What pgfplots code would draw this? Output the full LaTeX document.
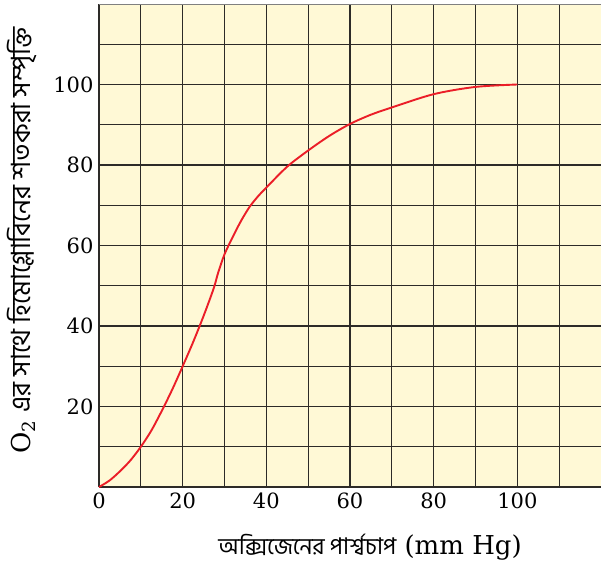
\documentclass[border=0pt]{standalone}
\usepackage{fontspec}
\setmainfont{DejaVu Serif}
\newfontfamily\bn[Script=Bengali]{Hind Siliguri}
\usepackage{pgfplots}
\pgfplotsset{compat=1.18}
\definecolor{bgyel}{RGB}{255,249,214}
\definecolor{curvered}{RGB}{235,30,40}
\definecolor{gridc}{RGB}{45,43,40}
\begin{document}
\begin{tikzpicture}
\begin{axis}[
  scale only axis,
  width=502pt, height=483pt,
  xmin=0, xmax=120, ymin=0, ymax=120,
  axis x line*=bottom, axis y line*=left,
  axis line style={-, gridc, line width=1.2pt},
  axis background/.style={fill=bgyel},
  xtick={0,20,...,100}, minor xtick={10,30,...,110},
  ytick={20,40,...,100}, minor ytick={10,30,...,110},
  major tick length=0pt, minor tick length=0pt,
  grid=both,
  major grid style={gridc, line width=1.2pt},
  minor grid style={gridc, line width=1.2pt},
  /pgf/number format/assume math mode=true,
  tick label style={font=\fontsize{21}{25}\selectfont},
  xticklabel style={yshift=-2pt},
  yticklabel style={xshift=-2pt},
  xlabel={{\bn\fontsize{23}{27}\selectfont অক্সিজেনের পার্শ্বচাপ} (mm Hg)},
  xlabel style={at={(rel axis cs:0.54,0)}, anchor=center, yshift=-60pt, font=\fontsize{26}{30}\selectfont},
  ylabel={O\textsubscript{2} {\bn\fontsize{26.5}{30}\selectfont এর সাথে হিমোগ্লোবিনের শতকরা সম্পৃক্তি}},
  ylabel style={at={(rel axis cs:0,0.51)}, anchor=center, rotate=0, yshift=77pt, font=\fontsize{26}{30}\selectfont},
  clip=false,
]
\addplot[curvered, line width=1.9pt, smooth, tension=0.5] coordinates {
  (0,0) (2.5,1.6) (5,3.9) (7.5,6.6) (10,10) (12.5,14) (15,18.9) (17.5,24.2)
  (20,30) (22.5,36) (25,42.5) (27.4,49.3) (28.5,53.3) (30,57.8) (32,62.2)
  (34,66.2) (36,69.6) (38,72.2) (40,74.4) (45,79.6) (50,83.6)
  (55,87.2) (60,90.2) (65,92.5) (70,94.3) (80,97.6) (90,99.4) (100,100)
};
\coordinate (A) at (rel axis cs:0,0);
\coordinate (B) at (rel axis cs:1,1);
\draw[gray, line width=0.9pt] (rel axis cs:0,1) -- (rel axis cs:1,1);
\end{axis}
\pgfresetboundingbox
\path ([xshift=-99pt,yshift=-78pt]A) rectangle ([yshift=4pt]B);
\end{tikzpicture}
\end{document}
